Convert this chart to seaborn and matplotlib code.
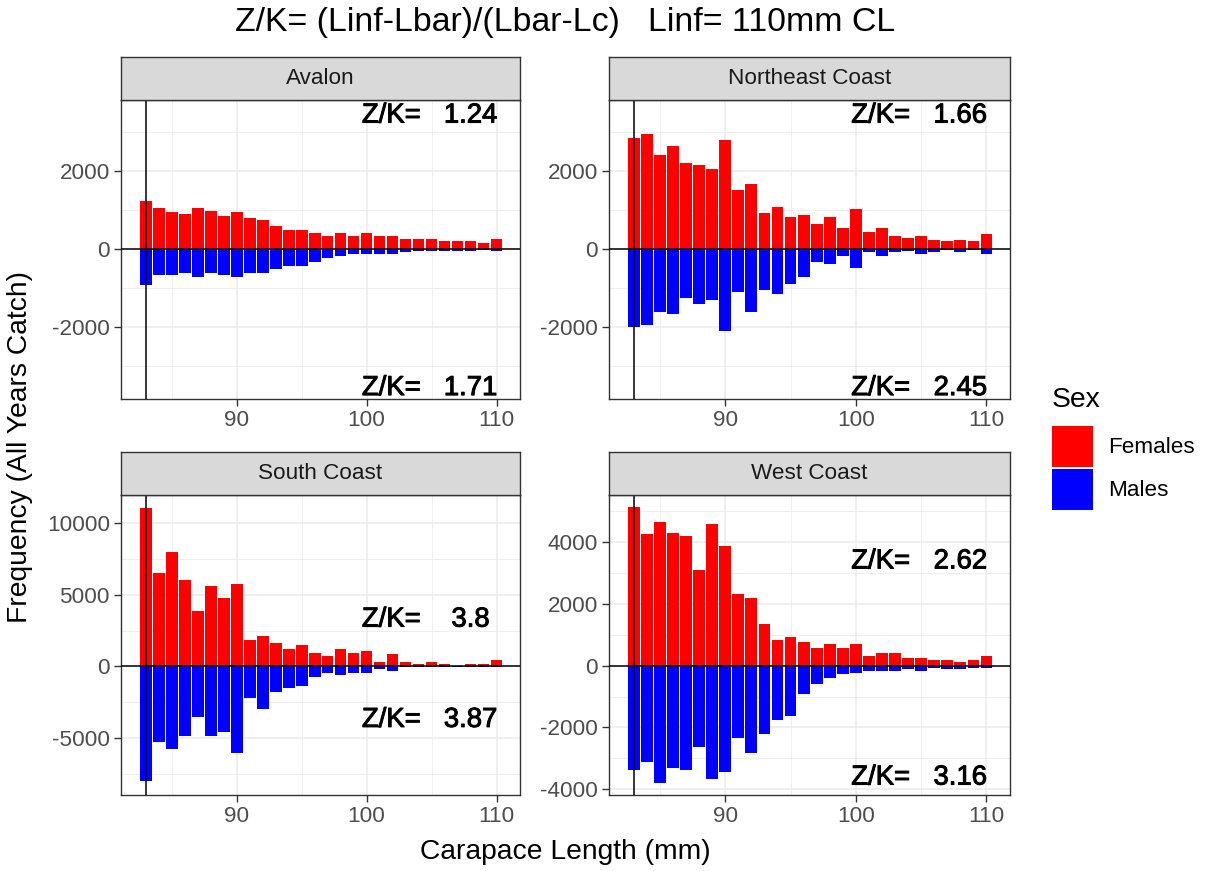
import numpy as np
import pandas as pd
import matplotlib
matplotlib.use("Agg")
import matplotlib.pyplot as plt
import seaborn as sns
from matplotlib.ticker import FixedLocator, FuncFormatter
from matplotlib.patches import Rectangle
import matplotlib.patheffects as pe

# ---------------- data ----------------
lengths = list(range(83, 111))
regions = ["Avalon", "Northeast Coast", "South Coast", "West Coast"]

avalon_f = [1244, 1047, 952, 901, 1047, 995, 849, 952, 798, 746, 600, 506, 506, 412,
            352, 412, 352, 412, 352, 352, 257, 257, 257, 215, 215, 215, 154, 257]
avalon_m = [-918, -661, -670, -618, -721, -618, -670, -721, -618, -618, -515, -420, -420, -318,
            -223, -172, -120, -120, -120, -120, -60, -50, -50, -40, -40, -40, -30, -40]

northeast_f = [2857, 2952, 2411, 2660, 2214, 2162, 2068, 2806, 1527, 1673, 944, 1090, 841, 892,
               644, 841, 549, 1038, 455, 549, 352, 300, 352, 249, 206, 249, 206, 403]
northeast_m = [-1982, -1939, -1596, -1647, -1244, -1399, -1296, -2085, -1098, -1596, -1047, -1150,
               -901, -712, -317, -369, -172, -472, -69, -172, -69, -50, -120, -69, -30, -69, -30, -120]

south_f = [11019, 6528, 7963, 5995, 3866, 5602, 4792, 5718, 1875, 2153, 1644, 1227, 1505, 972,
           694, 1227, 972, 1111, 301, 833, 301, 185, 301, 185, 15, 185, 185, 440]
south_m = [-8010, -5232, -5741, -4862, -3519, -4862, -4584, -6019, -2199, -2986, -1783, -1528,
           -1389, -764, -463, -602, -463, -463, -208, -347, -20, -10, -10, -10, -5, -10, -10, -10]

west_f = [5151, 4274, 4647, 4285, 4208, 3091, 4592, 3890, 2323, 2192, 1337, 822, 942, 767,
          581, 701, 581, 701, 329, 395, 395, 263, 263, 197, 197, 132, 197, 329]
west_m = [-3373, -3124, -3805, -3308, -3373, -2638, -3675, -3438, -2335, -2811, -2205, -1773,
          -1643, -908, -595, -411, -281, -227, -162, -162, -162, -97, -162, -76, -97, -97, -76, -76]

zk_females = [1.24, 1.66, 3.8, 2.62]
zk_males = [1.71, 2.45, 3.87, 3.16]
lc = 83

females = [avalon_f, northeast_f, south_f, west_f]
males = [avalon_m, northeast_m, south_m, west_m]

rows = []
for reg, fv, mv in zip(regions, females, males):
    for L, f, m in zip(lengths, fv, mv):
        rows.append((reg, L, "Females", f))
        rows.append((reg, L, "Males", m))
df = pd.DataFrame(rows, columns=["Region", "Length", "Sex", "Freq"])

# ---------------- layout ----------------
W, H = 1211, 871
sns.set_theme(style="white")
plt.rcParams["font.family"] = ["Liberation Sans", "DejaVu Sans"]
plt.rcParams["axes.unicode_minus"] = False

fig = plt.figure(figsize=(W / 100, H / 100), dpi=100)
fig.patch.set_facecolor("white")


def fx(x):
    return x / W


def fy(y):
    return 1 - y / H


panels = {
    "Avalon": (121, 520, 100, 399),
    "Northeast Coast": (609, 1010, 100, 399),
    "South Coast": (121, 520, 495, 795),
    "West Coast": (609, 1010, 495, 795),
}
strip_h = 43
ylims = {
    "Avalon": (-3840, 3830),
    "Northeast Coast": (-3840, 3830),
    "South Coast": (-8960, 11950),
    "West Coast": (-4185, 5525),
}
ymajor = {
    "Avalon": [-2000, 0, 2000],
    "Northeast Coast": [-2000, 0, 2000],
    "South Coast": [-5000, 0, 5000, 10000],
    "West Coast": [-4000, -2000, 0, 2000, 4000],
}
yminor = {
    "Avalon": [-3000, -1000, 1000, 3000],
    "Northeast Coast": [-3000, -1000, 1000, 3000],
    "South Coast": [-7500, -2500, 2500, 7500],
    "West Coast": [-3000, -1000, 1000, 3000, 5000],
}
label_y = {
    "Avalon": (3430, -3560),
    "Northeast Coast": (3430, -3560),
    "South Coast": (3264, -3727),
    "West Coast": (3376, -3621),
}

grid_col = "#EBEBEB"
border_col = "#333333"
tick_col = "#4D4D4D"
fs_axis = 16.2
fs_title = 24.4
fs_axtitle = 20.3
fs_ann = 19.8

for i, reg in enumerate(regions):
    x0, x1, y0, y1 = panels[reg]
    ax = fig.add_axes([fx(x0), fy(y1), fx(x1) - fx(x0), (y1 - y0) / H])
    sub = df[df["Region"] == reg]
    sns.barplot(data=sub, x="Length", y="Freq", hue="Sex",
                palette={"Females": "#FF0000", "Males": "#0000FF"},
                native_scale=True, dodge=False, width=0.9, errorbar=None,
                saturation=1, linewidth=0, legend=False, ax=ax, zorder=2)
    ax.set_xlim(81.1, 111.8)
    ax.set_ylim(*ylims[reg])
    ax.xaxis.set_major_locator(FixedLocator([90, 100, 110]))
    ax.xaxis.set_minor_locator(FixedLocator([85, 95, 105]))
    ax.yaxis.set_major_locator(FixedLocator(ymajor[reg]))
    ax.yaxis.set_minor_locator(FixedLocator(yminor[reg]))
    ax.xaxis.set_major_formatter(FuncFormatter(lambda v, p: f"{v:.0f}"))
    ax.yaxis.set_major_formatter(FuncFormatter(lambda v, p: f"{v:.0f}"))
    ax.grid(True, which="major", color=grid_col, linewidth=1.1, zorder=0)
    ax.grid(True, which="minor", color=grid_col, linewidth=0.55, zorder=0)
    ax.set_axisbelow(True)
    ax.tick_params(axis="both", which="major", direction="out", length=5, width=1.0,
                   color=border_col, labelsize=fs_axis, labelcolor=tick_col, pad=3,
                   bottom=True, left=True)
    ax.tick_params(axis="both", which="minor", length=0)
    for s in ax.spines.values():
        s.set_color(border_col)
        s.set_linewidth(1.0)
        s.set_visible(True)
    ax.set_xlabel("")
    ax.set_ylabel("")
    ax.axhline(0, color="black", linewidth=1.1, zorder=3)
    ax.axvline(lc, color="black", linewidth=1.1, zorder=3)

    ytop, ybot = label_y[reg]
    stroke = [pe.withStroke(linewidth=0.7, foreground="black")]
    for yy, val in ((ytop, zk_females[i]), (ybot, zk_males[i])):
        ax.text(101.9, yy, "Z/K=", ha="center", va="center", fontsize=fs_ann,
                color="black", zorder=4, path_effects=stroke)
        ax.text(108.0, yy, f"{val}", ha="center", va="center", fontsize=fs_ann,
                color="black", zorder=4, path_effects=stroke)

    # strip
    sax = fig.add_axes([fx(x0), fy(y0), fx(x1) - fx(x0), strip_h / H])
    sax.set_facecolor("#D9D9D9")
    sax.set_xticks([])
    sax.set_yticks([])
    for s in sax.spines.values():
        s.set_color(border_col)
        s.set_linewidth(1.0)
    sax.text(0.5, 0.5, reg, ha="center", va="center", fontsize=fs_axis,
             color="#1A1A1A", transform=sax.transAxes)

# titles
fig.text(fx(565), fy(22), "Z/K= (Linf-Lbar)/(Lbar-Lc)   Linf= 110mm CL",
         ha="center", va="center", fontsize=fs_title, color="black")
fig.text(fx(565), fy(852), "Carapace Length (mm)", ha="center", va="center",
         fontsize=fs_axtitle, color="black")
fig.text(fx(20), fy(447), "Frequency (All Years Catch)", ha="center", va="center",
         rotation=90, fontsize=fs_axtitle, color="black")

# legend
fig.text(fx(1052), fy(400), "Sex", ha="left", va="center", fontsize=fs_axtitle, color="black")
for (lab, col, ytop_px) in (("Females", "#FF0000", 426), ("Males", "#0000FF", 469)):
    fig.add_artist(Rectangle((fx(1052), fy(ytop_px + 41)), 41 / W, 41 / H,
                             transform=fig.transFigure, facecolor=col, edgecolor="none"))
    fig.text(fx(1108), fy(ytop_px + 21), lab, ha="left", va="center",
             fontsize=fs_axis, color="black")

fig.savefig("out.png", dpi=100, facecolor="white")
